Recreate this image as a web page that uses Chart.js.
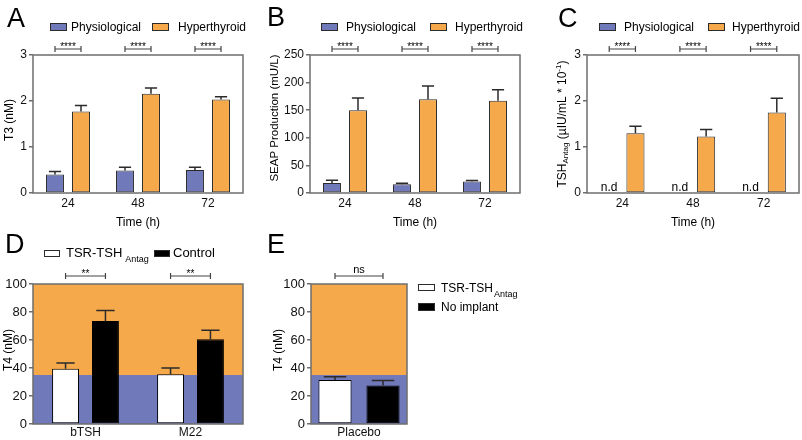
<!DOCTYPE html>
<html>
<head>
<meta charset="utf-8">
<script src="https://cdn.jsdelivr.net/npm/chart.js@4.4.0/dist/chart.umd.min.js"></script>
<style>
  html, body { margin: 0; padding: 0; background: #fff; }
  #wrap { position: relative; width: 802px; height: 440px; overflow: hidden; }
  #wrap canvas { position: absolute; }
</style>
</head>
<body>
<div id="wrap">
  <canvas id="chartA" width="262" height="232" style="left:0;top:0;width:262px;height:232px"></canvas>
  <canvas id="chartB" width="270" height="232" style="left:262px;top:0;width:270px;height:232px"></canvas>
  <canvas id="chartC" width="270" height="232" style="left:532px;top:0;width:270px;height:232px"></canvas>
  <canvas id="chartD" width="262" height="220" style="left:0;top:220px;width:262px;height:220px"></canvas>
  <canvas id="chartE" width="540" height="220" style="left:262px;top:220px;width:540px;height:220px"></canvas>
</div>
<script>
// --- Data ---
const timeLabels = ['24', '48', '72'];

const t3Physio = [0.40, 0.49, 0.50];
const t3PhysioErr = [0.07, 0.07, 0.06];
const t3Hyper = [1.77, 2.16, 2.03];
const t3HyperErr = [0.13, 0.12, 0.06];

const seapPhysio = [18, 16, 21];
const seapPhysioErr = [5, 1.5, 1.5];
const seapHyper = [150, 170, 167];
const seapHyperErr = [22, 24, 20];

const tshPhysio = [0, 0, 0]; // n.d (not detected)
const tshHyper = [1.30, 1.23, 1.75];
const tshHyperErr = [0.15, 0.15, 0.31];

const implantLabels = ['bTSH', 'M22'];
const t4Antag = [39.5, 35.5];
const t4AntagErr = [4.0, 4.5];
const t4Control = [73.5, 60.5];
const t4ControlErr = [7.5, 6.5];

const placeboLabels = ['Placebo'];
const t4AntagPlacebo = [31.5];
const t4AntagPlaceboErr = [2.3];
const t4NoImplant = [27.5];
const t4NoImplantErr = [3.5];

const sigA = ['****', '****', '****'];
const sigB = ['****', '****', '****'];
const sigC = ['****', '****', '****'];
const sigD = ['**', '**'];
const sigE = ['ns'];

const normalT4Max = 35;   // physiological range upper limit (nM)

// --- Styles ---
const FONT = '"Liberation Sans", Arial, Helvetica, sans-serif';
const BLUE = '#7079b9';
const ORANGE = '#f6a94b';
const EDGE = '#2b2b2b';
const AXIS = '#6e6e6e';

function barSet(label, data, errors, color, extra) {
    return Object.assign({
        label: label, data: data, errors: errors,
        backgroundColor: color, borderColor: EDGE, borderWidth: 1, borderSkipped: false
    }, extra || {});
}

// text made of parts (sub/superscripts) drawn from x on baseline y
function richWidth(ctx, parts, base) {
    let w = 0;
    parts.forEach(p => {
        ctx.font = `${p.size || base}px ${FONT}`;
        w += (p.gap || 0) + ctx.measureText(p.t).width;
    });
    return w;
}
function drawRich(ctx, parts, x, y, base) {
    parts.forEach(p => {
        ctx.font = `${p.size || base}px ${FONT}`;
        x += (p.gap || 0);
        ctx.fillText(p.t, x, y + (p.dy || 0));
        x += ctx.measureText(p.t).width;
    });
}

function decorPlugin(cfg) {
    return {
        id: 'decor',
        beforeDatasetsDraw(chart) {
            if (!cfg.bands) return;
            const { ctx, chartArea: a, scales: { y } } = chart;
            cfg.bands.forEach(b => {
                const top = y.getPixelForValue(b.to), bot = y.getPixelForValue(b.from);
                ctx.fillStyle = b.color;
                ctx.fillRect(a.left, top, a.right - a.left, bot - top);
            });
        },
        afterDatasetsDraw(chart) {
            const { ctx, scales: { y } } = chart;
            ctx.save();
            chart.data.datasets.forEach((ds, di) => {
                if (!ds.errors) return;
                chart.getDatasetMeta(di).data.forEach((bar, i) => {
                    const err = ds.errors[i];
                    if (!err) return;
                    const yTop = y.getPixelForValue(ds.data[i] + err);
                    const half = bar.width * 0.34;
                    ctx.strokeStyle = EDGE;
                    ctx.lineWidth = 1.5;
                    ctx.beginPath();
                    ctx.moveTo(bar.x, bar.y);
                    ctx.lineTo(bar.x, yTop);
                    ctx.moveTo(bar.x - half, yTop);
                    ctx.lineTo(bar.x + half, yTop);
                    ctx.stroke();
                });
            });
            ctx.restore();
        },
        afterDraw(chart) {
            const { ctx, chartArea: a } = chart;
            ctx.save();
            // plot frame
            ctx.strokeStyle = AXIS;
            ctx.lineWidth = 1.5;
            ctx.strokeRect(a.left, a.top, a.right - a.left, a.bottom - a.top);

            ctx.fillStyle = '#000';
            ctx.textBaseline = 'alphabetic';

            // panel letter
            ctx.font = `27px ${FONT}`;
            ctx.textAlign = 'left';
            ctx.fillText(cfg.letter, cfg.letterPos[0], cfg.letterPos[1]);

            // legend
            cfg.legend.forEach(item => {
                const [bx, by, bw, bh] = item.box;
                ctx.fillStyle = item.fill;
                ctx.fillRect(bx, by, bw, bh);
                ctx.strokeStyle = EDGE;
                ctx.lineWidth = 1;
                ctx.strokeRect(bx + 0.5, by + 0.5, bw - 1, bh - 1);
                ctx.fillStyle = '#000';
                drawRich(ctx, item.parts, item.tx, item.ty, cfg.legendFont);
            });

            // significance brackets between the two bars of each group
            const m0 = chart.getDatasetMeta(0).data, m1 = chart.getDatasetMeta(1).data;
            cfg.sig.forEach((txt, i) => {
                const x0 = m0[i].x, x1 = m1[i].x, ly = cfg.sigY;
                ctx.strokeStyle = '#444';
                ctx.lineWidth = 1.2;
                ctx.beginPath();
                ctx.moveTo(x0, ly); ctx.lineTo(x1, ly);
                ctx.moveTo(x0, ly - 3); ctx.lineTo(x0, ly + 3);
                ctx.moveTo(x1, ly - 3); ctx.lineTo(x1, ly + 3);
                ctx.stroke();
                ctx.fillStyle = '#000';
                ctx.textAlign = 'center';
                ctx.font = `${cfg.sigFont}px ${FONT}`;
                ctx.fillText(txt, (x0 + x1) / 2, ly + cfg.sigDy);
            });

            // n.d labels for the undetected series
            if (cfg.nd) {
                ctx.font = `12px ${FONT}`;
                ctx.textAlign = 'center';
                m0.forEach(bar => ctx.fillText('n.d', bar.x, a.bottom - 2));
            }

            // x title
            if (cfg.xTitle) {
                ctx.font = `12px ${FONT}`;
                ctx.textAlign = 'center';
                ctx.fillText(cfg.xTitle, (a.left + a.right) / 2, cfg.xTitleY);
            }

            // y title (rotated)
            const fs = cfg.yTitleFont || 12;
            ctx.translate(cfg.yTitlePos[0], cfg.yTitlePos[1]);
            ctx.rotate(-Math.PI / 2);
            ctx.textAlign = 'left';
            ctx.textBaseline = 'middle';
            const w = richWidth(ctx, cfg.yTitle, fs);
            drawRich(ctx, cfg.yTitle, -w / 2, 0, fs);
            ctx.restore();
        }
    };
}

function makePanel(canvasId, cfg) {
    const canvas = document.getElementById(canvasId);
    const W = canvas.width, H = canvas.height;
    const a = cfg.area;
    return new Chart(canvas, {
        type: 'bar',
        data: { labels: cfg.labels, datasets: cfg.datasets },
        options: {
            responsive: false,
            animation: false,
            devicePixelRatio: 1,
            layout: { padding: { left: 0, top: a.top, right: W - a.right, bottom: 0 } },
            plugins: { legend: { display: false }, tooltip: { enabled: false } },
            datasets: { bar: { categoryPercentage: cfg.catPct, barPercentage: cfg.barPct } },
            scales: {
                x: {
                    grid: { display: false, drawTicks: false },
                    border: { display: false },
                    ticks: { color: '#111', font: { family: FONT, size: cfg.xFont }, padding: cfg.xPad, maxRotation: 0, autoSkip: false },
                    afterFit: s => { s.height = H - a.bottom; }
                },
                y: {
                    min: 0, max: cfg.yMax,
                    ticks: { stepSize: cfg.yStep, color: '#111', font: { family: FONT, size: cfg.tickFont }, padding: 2 },
                    grid: { display: true, drawOnChartArea: false, drawTicks: true, tickLength: 4, color: AXIS, lineWidth: 1.5 },
                    border: { display: false },
                    afterFit: s => { s.width = a.left; }
                }
            }
        },
        plugins: [decorPlugin(cfg)]
    });
}

const topLegend = (x1, t1, x2, t2) => [
    { box: [x1, 23, 17, 8], fill: BLUE, parts: [{ t: 'Physiological' }], tx: t1, ty: 31 },
    { box: [x2, 23, 17, 8], fill: ORANGE, parts: [{ t: 'Hyperthyroid' }], tx: t2, ty: 31 }
];

// --- Panel A ---
makePanel('chartA', {
    letter: 'A', letterPos: [7, 27],
    labels: timeLabels,
    datasets: [barSet('Physiological', t3Physio, t3PhysioErr, BLUE), barSet('Hyperthyroid', t3Hyper, t3HyperErr, ORANGE)],
    area: { left: 33, top: 55, right: 243, bottom: 193 },
    yMax: 3, yStep: 1, catPct: 0.743, barPct: 0.69,
    tickFont: 12, xFont: 12, xPad: 3,
    yTitle: [{ t: 'T3 (nM)' }], yTitlePos: [10, 120],
    xTitle: 'Time (h)', xTitleY: 226,
    legend: topLegend(50, 71, 152, 178), legendFont: 12,
    sig: sigA, sigY: 49, sigFont: 10, sigDy: 1
});

// --- Panel B ---
makePanel('chartB', {
    letter: 'B', letterPos: [5, 26],
    labels: timeLabels,
    datasets: [barSet('Physiological', seapPhysio, seapPhysioErr, BLUE), barSet('Hyperthyroid', seapHyper, seapHyperErr, ORANGE)],
    area: { left: 48, top: 55, right: 258, bottom: 193 },
    yMax: 250, yStep: 50, catPct: 0.743, barPct: 0.69,
    tickFont: 12, xFont: 12, xPad: 3,
    yTitle: [{ t: 'SEAP Production (mU/L)' }], yTitlePos: [13, 118], yTitleFont: 11.5,
    xTitle: 'Time (h)', xTitleY: 226,
    legend: topLegend(59, 84, 168, 193), legendFont: 12,
    sig: sigB, sigY: 49, sigFont: 10, sigDy: 1
});

// --- Panel C ---
makePanel('chartC', {
    letter: 'C', letterPos: [26, 27],
    labels: timeLabels,
    datasets: [barSet('Physiological', tshPhysio, null, BLUE, { borderWidth: 0 }), barSet('Hyperthyroid', tshHyper, tshHyperErr, ORANGE)],
    area: { left: 55, top: 55, right: 267, bottom: 193 },
    yMax: 3, yStep: 1, catPct: 0.743, barPct: 0.69,
    tickFont: 12, xFont: 12, xPad: 3,
    yTitle: [{ t: 'TSH' }, { t: 'Antag', size: 8, dy: 3 }, { t: ' (\u00b5IU/mL * 10' }, { t: '-1', size: 8, dy: -4 }, { t: ')' }],
    yTitlePos: [31, 124],
    xTitle: 'Time (h)', xTitleY: 226,
    legend: topLegend(67, 92, 176, 200), legendFont: 12,
    sig: sigC, sigY: 49, sigFont: 10, sigDy: 1,
    nd: true
});

// --- Panel D ---
makePanel('chartD', {
    letter: 'D', letterPos: [5, 33],
    labels: implantLabels,
    datasets: [barSet('TSR-TSH Antag', t4Antag, t4AntagErr, '#ffffff', { borderColor: '#000' }), barSet('Control', t4Control, t4ControlErr, '#000000', { borderColor: '#000' })],
    area: { left: 33, top: 64, right: 243, bottom: 204 },
    yMax: 100, yStep: 20, catPct: 0.76, barPct: 0.675,
    tickFont: 13, xFont: 12, xPad: 1,
    bands: [{ from: normalT4Max, to: 100, color: ORANGE }, { from: 0, to: normalT4Max, color: BLUE }],
    yTitle: [{ t: 'T4 (nM)' }], yTitlePos: [9, 130],
    legend: [
        { box: [44, 30, 16, 7], fill: '#fff', parts: [{ t: 'TSR-TSH' }, { t: 'Antag', size: 9, dy: 5, gap: 3 }], tx: 66, ty: 37 },
        { box: [154, 30, 16, 7], fill: '#000', parts: [{ t: 'Control' }], tx: 173, ty: 37 }
    ],
    legendFont: 13,
    sig: sigD, sigY: 56, sigFont: 10, sigDy: 1
});

// --- Panel E ---
makePanel('chartE', {
    letter: 'E', letterPos: [5, 33],
    labels: placeboLabels,
    datasets: [barSet('TSR-TSH Antag', t4AntagPlacebo, t4AntagPlaceboErr, '#ffffff', { borderColor: '#000' }), barSet('No implant', t4NoImplant, t4NoImplantErr, '#000000', { borderColor: '#000' })],
    area: { left: 49, top: 64, right: 145, bottom: 204 },
    yMax: 100, yStep: 20, catPct: 1.0, barPct: 0.69,
    tickFont: 13, xFont: 12, xPad: 1,
    bands: [{ from: normalT4Max, to: 100, color: ORANGE }, { from: 0, to: normalT4Max, color: BLUE }],
    yTitle: [{ t: 'T4 (nM)' }], yTitlePos: [17, 130],
    legend: [
        { box: [156, 64, 17, 7], fill: '#fff', parts: [{ t: 'TSR-TSH' }, { t: 'Antag', size: 9, dy: 5, gap: 1 }], tx: 179, ty: 72 },
        { box: [156, 83, 17, 8], fill: '#000', parts: [{ t: 'No implant' }], tx: 179, ty: 91 }
    ],
    legendFont: 12,
    sig: sigE, sigY: 56, sigFont: 11, sigDy: -3
});
</script>
</body>
</html>
